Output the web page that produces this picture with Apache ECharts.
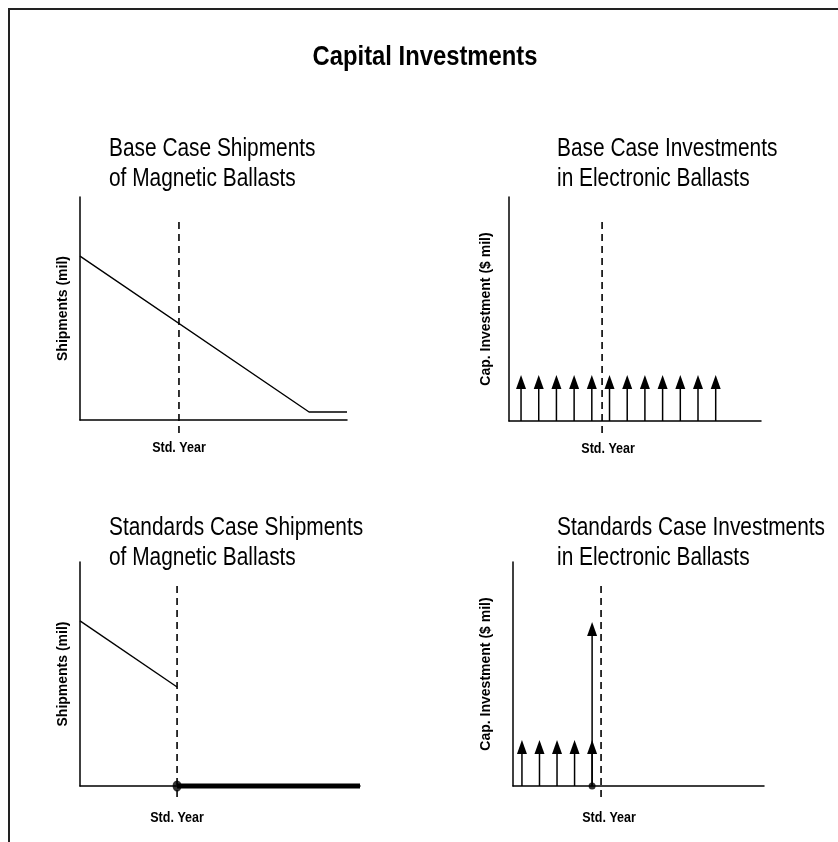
<!DOCTYPE html>
<html><head><meta charset="utf-8">
<script src="https://cdn.jsdelivr.net/npm/echarts@6/dist/echarts.min.js"></script>
<style>html,body{margin:0;padding:0;background:#fff}#c{width:838px;height:842px}</style>
</head><body><div id="c"></div>
<script>
// ---- text ----
const mainTitle = 'Capital Investments';
const panelTitles = [
  'Base Case Shipments\nof Magnetic Ballasts',
  'Base Case Investments\nin Electronic Ballasts',
  'Standards Case Shipments\nof Magnetic Ballasts',
  'Standards Case Investments\nin Electronic Ballasts'
];
const yAxisNames = ['Shipments (mil)', 'Cap. Investment ($ mil)', 'Shipments (mil)', 'Cap. Investment ($ mil)'];
const stdYearLabel = 'Std. Year';

// ---- panel 1: base case shipments of magnetic ballasts ----
const baseShipYears = [0, 12.87, 15];
const baseShipValues = [73.5, 3.6, 3.6];
const baseShipStdYear = 5.56;
const baseShipStdRange = [-5.8, 89.7];

// ---- panel 2: base case investments in electronic ballasts ----
const baseInvYears = [1, 2, 3, 4, 5, 6, 7, 8, 9, 10, 11, 12];
const baseInvValues = [20.5, 20.5, 20.5, 20.5, 20.5, 20.5, 20.5, 20.5, 20.5, 20.5, 20.5, 20.5];
const baseInvStdYear = 5.58;
const baseInvStdRange = [-5.4, 89.7];

// ---- panel 3: standards case shipments of magnetic ballasts ----
const stdShipBeforeYears = [0, 5.2];
const stdShipBeforeValues = [73.7, 44.2];
const stdShipAfterYears = [5.2, 15];
const stdShipAfterValues = [0, 0];
const stdShipStdYear = 5.2;
const stdShipStdRange = [-4.9, 89.7];

// ---- panel 4: standards case investments in electronic ballasts ----
const stdInvYears = [1, 2, 3, 4, 5];
const stdInvValues = [20.5, 20.5, 20.5, 20.5, 20.5];
const stdInvBigYears = [5];
const stdInvBigValues = [73.2];
const stdInvStdYear = 5.51;
const stdInvStdRange = [-4.9, 89.7];

const SANS = '"Liberation Sans", Arial, sans-serif';
const SQUEEZE = 0.835;   // the original text is horizontally condensed

const grids = [
  {left: 80, top: 197, width: 267, height: 223},
  {left: 509, top: 197, width: 252, height: 224},
  {left: 80, top: 562, width: 280, height: 224},
  {left: 513, top: 562, width: 251, height: 224}
];
const xRanges = [[0, 15], [0.32, 14.56], [0, 15], [0.49, 14.8]];
const nameGaps = [10, 16, 10, 20];
const titlePos = [[109, 134], [557, 134], [109, 513], [557, 513]];
const stdYears = [baseShipStdYear, baseInvStdYear, stdShipStdYear, stdInvStdYear];
const stdLabelShift = [[0, 20], [6, 20], [0, 24], [8, 24]];

function zip(a, b) { return a.map((v, i) => [v, b[i]]); }

function arrowRender(params, api) {
  const x = api.value(0), v = api.value(1);
  const p0 = api.coord([x, 0]);
  const p1 = api.coord([x, v]);
  const hw = 5, hh = 14;
  return {
    type: 'group',
    children: [
      {type: 'line', shape: {x1: p0[0], y1: p0[1], x2: p1[0], y2: p1[1] + hh - 1},
       style: {stroke: '#000', lineWidth: 1.5}},
      {type: 'polygon', shape: {points: [[p1[0], p1[1]], [p1[0] - hw, p1[1] + hh], [p1[0] + hw, p1[1] + hh]]},
       style: {fill: '#000'}}
    ]
  };
}

function dashed(idx, year, range) {
  return {
    type: 'line', xAxisIndex: idx, yAxisIndex: idx, clip: false, symbol: 'none', silent: true,
    data: [[year, range[0]], [year, range[1]]],
    lineStyle: {color: '#000', width: 1.6, type: [7, 5]}, z: 1
  };
}

const graphics = [
  {id: 'frame', type: 'rect', shape: {x: 9, y: 9, width: 860, height: 860},
   style: {fill: 'none', stroke: '#222', lineWidth: 2}, silent: true},
  {id: 'mainTitle', type: 'text', x: 425, y: 43, scaleX: 0.85, silent: true,
   style: {text: mainTitle, fill: '#000', font: 'bold 28px ' + SANS, align: 'center', verticalAlign: 'top'}}
];
panelTitles.forEach((t, i) => {
  graphics.push({id: 'pt' + i, type: 'text', x: titlePos[i][0], y: titlePos[i][1], scaleX: SQUEEZE, silent: true,
    style: {text: t, fill: '#000', fontFamily: SANS, fontSize: 25, lineHeight: 30,
            align: 'left', verticalAlign: 'top'}});
});

const option = {
  animation: false,
  backgroundColor: '#fff',
  graphic: graphics,
  grid: grids.map(g => Object.assign({containLabel: false}, g)),
  xAxis: grids.map((g, i) => ({
    type: 'value', gridIndex: i, min: xRanges[i][0], max: xRanges[i][1],
    axisLine: {show: true, onZero: false, lineStyle: {color: '#000', width: 1.5}},
    axisTick: {show: false}, axisLabel: {show: false}, splitLine: {show: false}
  })),
  yAxis: grids.map((g, i) => ({
    type: 'value', gridIndex: i, min: 0, max: 100,
    name: yAxisNames[i], nameLocation: 'middle', nameGap: nameGaps[i], nameRotate: 90,
    nameTextStyle: {fontFamily: SANS, fontWeight: 'bold', fontSize: 14, color: '#000'},
    axisLine: {show: true, onZero: false, lineStyle: {color: '#000', width: 1.5}},
    axisTick: {show: false}, axisLabel: {show: false}, splitLine: {show: false}
  })),
  series: [
    // panel 1
    {type: 'line', xAxisIndex: 0, yAxisIndex: 0, symbol: 'none', silent: true,
     data: zip(baseShipYears, baseShipValues), lineStyle: {color: '#000', width: 1.4}},
    dashed(0, baseShipStdYear, baseShipStdRange),
    // panel 2
    {type: 'custom', xAxisIndex: 1, yAxisIndex: 1, renderItem: arrowRender, silent: true,
     data: zip(baseInvYears, baseInvValues), z: 3},
    dashed(1, baseInvStdYear, baseInvStdRange),
    // panel 3
    {type: 'line', xAxisIndex: 2, yAxisIndex: 2, symbol: 'none', silent: true,
     data: zip(stdShipBeforeYears, stdShipBeforeValues), lineStyle: {color: '#000', width: 1.4}},
    {type: 'line', xAxisIndex: 2, yAxisIndex: 2, symbol: 'none', silent: true, clip: false,
     data: zip(stdShipAfterYears, stdShipAfterValues), lineStyle: {color: '#000', width: 5}, z: 4},
    {type: 'scatter', xAxisIndex: 2, yAxisIndex: 2, symbol: 'circle', symbolSize: [9, 11], silent: true,
     data: [[stdShipStdYear, 0]], itemStyle: {color: '#000'}, z: 5},
    dashed(2, stdShipStdYear, stdShipStdRange),
    // panel 4
    {type: 'custom', xAxisIndex: 3, yAxisIndex: 3, renderItem: arrowRender, silent: true,
     data: zip(stdInvBigYears, stdInvBigValues), z: 3},
    {type: 'custom', xAxisIndex: 3, yAxisIndex: 3, renderItem: arrowRender, silent: true,
     data: zip(stdInvYears, stdInvValues), z: 4},
    {type: 'scatter', xAxisIndex: 3, yAxisIndex: 3, symbol: 'circle', symbolSize: 7, silent: true,
     data: [[stdInvBigYears[0], 0]], itemStyle: {color: '#000'}, z: 5},
    dashed(3, stdInvStdYear, stdInvStdRange)
  ]
};
const chart = echarts.init(document.getElementById('c'), null, {renderer: 'canvas'});
chart.setOption(option);

// "Std. Year" labels placed under each standard year through the axis scales
const stdGraphics = stdYears.map((yr, i) => {
  const p = chart.convertToPixel({gridIndex: i}, [yr, 0]);
  return {id: 'std' + i, type: 'text', x: p[0] + stdLabelShift[i][0], y: p[1] + stdLabelShift[i][1],
    scaleX: SQUEEZE, silent: true,
    style: {text: stdYearLabel, fill: '#000', font: 'bold 15px ' + SANS, align: 'center', verticalAlign: 'top'}};
});
chart.setOption({graphic: graphics.concat(stdGraphics)});
</script>
</body></html>
